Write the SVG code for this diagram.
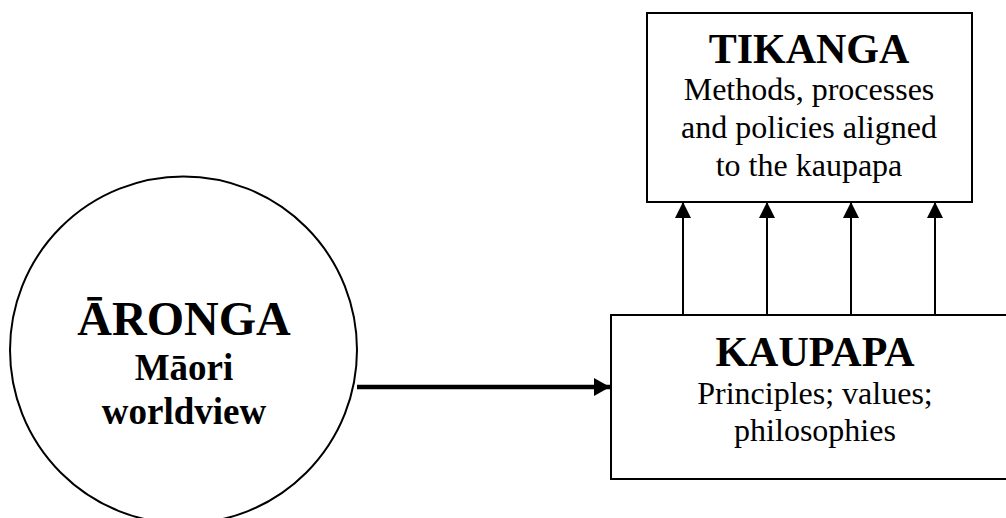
<svg xmlns="http://www.w3.org/2000/svg" width="1006" height="518" viewBox="0 0 1006 518">
  <style>
    .shape { fill: #ffffff; stroke: #000000; stroke-width: 2; }
    .title { font-family: "Liberation Serif", "Times New Roman", serif; font-weight: bold; text-anchor: middle; fill: #000000; }
    .body { font-family: "Liberation Serif", "Times New Roman", serif; font-size: 32px; text-anchor: middle; fill: #000000; }
    .link { stroke: #000000; fill: none; }
  </style>
  <defs>
    <marker id="headSmall" viewBox="0 0 16 16" refX="16" refY="8" markerWidth="16" markerHeight="16" markerUnits="userSpaceOnUse" orient="auto">
      <path d="M0,0 L16,8 L0,16 Z" fill="#000000"/>
    </marker>
    <marker id="headLarge" viewBox="0 0 16 18" refX="16" refY="9" markerWidth="16" markerHeight="18" markerUnits="userSpaceOnUse" orient="auto">
      <path d="M0,0 L16,9 L0,18 Z" fill="#000000"/>
    </marker>
  </defs>

  <rect width="1006" height="518" fill="#ffffff"/>

  <!-- Connectors -->
  <g id="connectors">
    <line class="link" x1="357" y1="387" x2="610" y2="387" stroke-width="4.5" marker-end="url(#headLarge)"/>
    <line class="link" x1="683" y1="315" x2="683" y2="202" stroke-width="2" marker-end="url(#headSmall)"/>
    <line class="link" x1="767" y1="315" x2="767" y2="202" stroke-width="2" marker-end="url(#headSmall)"/>
    <line class="link" x1="851" y1="315" x2="851" y2="202" stroke-width="2" marker-end="url(#headSmall)"/>
    <line class="link" x1="935" y1="315" x2="935" y2="202" stroke-width="2" marker-end="url(#headSmall)"/>
  </g>

  <!-- Worldview circle -->
  <g id="aronga">
    <circle class="shape" cx="183.5" cy="350" r="173.5" stroke-width="1.8"/>
    <text class="title" x="184" y="335" font-size="48">ĀRONGA</text>
    <text class="title" x="184" y="380" font-size="37">Māori</text>
    <text class="title" x="184" y="424" font-size="37">worldview</text>
  </g>

  <!-- Principles box -->
  <g id="kaupapa">
    <rect class="shape" x="611" y="315" width="410" height="164"/>
    <text class="title" x="815" y="366" font-size="42">KAUPAPA</text>
    <text class="body" x="815" y="404">Principles; values;</text>
    <text class="body" x="815" y="441">philosophies</text>
  </g>

  <!-- Methods box -->
  <g id="tikanga">
    <rect class="shape" x="647" y="13" width="325" height="189"/>
    <text class="title" x="809" y="63" font-size="42">TIKANGA</text>
    <text class="body" x="809" y="100">Methods, processes</text>
    <text class="body" x="809" y="138">and policies aligned</text>
    <text class="body" x="809" y="176">to the kaupapa</text>
  </g>
</svg>
